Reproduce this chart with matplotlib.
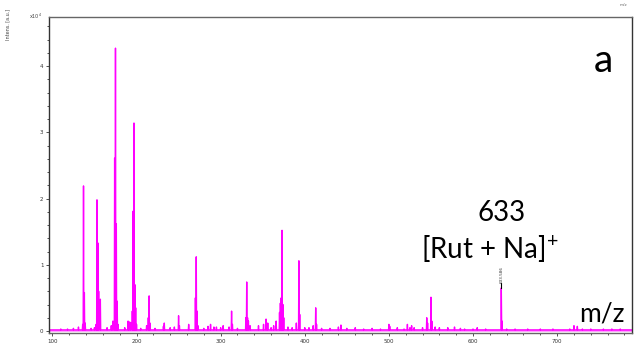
from matplotlib import pyplot as plt
from matplotlib.ticker import MultipleLocator
import numpy as np

# peak list (m/z, intensity in units of 1e4 a.u.)
peak_mz = [110, 118, 125, 131, 136, 137, 138, 139,
           146, 150, 152, 153, 154, 155, 157,
           165, 170, 172, 174, 175, 176, 177, 178,
           186, 190, 191, 193, 195, 196, 197, 198, 199, 200,
           205, 212, 214, 215, 216, 222, 232, 233, 240, 245, 250, 251,
           262, 270, 271, 272, 273, 280, 285, 288, 292, 295, 300, 303,
           310, 313, 314, 320, 330, 331, 332, 333, 335, 345, 351, 354, 356,
           360, 363, 366, 370, 371, 372, 373, 374, 375, 380, 385, 390, 393, 394,
           400, 405, 410, 413, 414, 420, 430, 440, 443, 450, 460, 470, 480, 490,
           500, 501, 510, 518, 522, 525, 527, 530, 540, 545, 546, 550, 551,
           555, 560, 570, 578, 585, 590, 600, 605, 615, 633.6, 634.5,
           640, 650, 665, 680, 695, 715, 720, 724, 730, 740, 755, 765, 775]
peak_int = [0.03, 0.03, 0.04, 0.06, 0.10, 2.19, 0.58, 0.12,
            0.04, 0.05, 0.10, 1.98, 1.33, 0.60, 0.48,
            0.05, 0.08, 0.15, 2.61, 4.27, 1.62, 0.45, 0.10,
            0.05, 0.15, 0.14, 0.13, 0.30, 1.81, 3.14, 0.70, 0.35, 0.10,
            0.04, 0.08, 0.20, 0.53, 0.12, 0.04, 0.07, 0.12, 0.05, 0.06, 0.23, 0.08,
            0.10, 0.50, 1.12, 0.30, 0.08, 0.04, 0.07, 0.10, 0.06, 0.06, 0.05, 0.08,
            0.06, 0.30, 0.10, 0.04, 0.20, 0.74, 0.20, 0.15, 0.08, 0.08, 0.10, 0.18, 0.12,
            0.05, 0.08, 0.15, 0.28, 0.42, 0.50, 1.52, 0.40, 0.20, 0.06, 0.05, 0.12, 1.06, 0.25,
            0.05, 0.05, 0.08, 0.35, 0.10, 0.04, 0.04, 0.06, 0.09, 0.04, 0.05, 0.03, 0.04, 0.03,
            0.10, 0.07, 0.05, 0.03, 0.10, 0.05, 0.08, 0.05, 0.05, 0.20, 0.12, 0.51, 0.15,
            0.06, 0.05, 0.05, 0.06, 0.04, 0.03, 0.03, 0.05, 0.03, 0.65, 0.15,
            0.03, 0.03, 0.03, 0.03, 0.03, 0.03, 0.08, 0.07, 0.03, 0.03, 0.03, 0.03, 0.03]
baseline = 0.015
mz_range = [96, 789]

label_mz = 633.586
label_int = 0.65

MAGENTA = "#ff00ff"
font = "Lato"
plt.rcParams["mathtext.fontset"] = "custom"
plt.rcParams["mathtext.rm"] = font

fig = plt.figure(figsize=(6.35, 3.43), dpi=100)
ax = fig.add_axes([0.0772, 0.0292, 0.9181, 0.9212])

# stick spectrum: each peak goes baseline -> top -> baseline
xs, ys = [], []
for m, h in sorted(zip(peak_mz, peak_int)):
    xs += [m - 0.4, m, m + 0.4]
    ys += [baseline, h, baseline]
xs = [mz_range[0]] + xs + [mz_range[1]]
ys = [baseline] + ys + [baseline]
ax.plot(mz_range, [baseline, baseline], color="#ff80ff", lw=1.8, zorder=1)
ax.plot(xs, ys, color=MAGENTA, lw=1.0, zorder=2)

# peak label
ax.plot([label_mz, label_mz], [label_int, label_int + 0.07], color="black", lw=0.8)
ax.text(label_mz, label_int + 0.08, "633.586", rotation=90, ha="center", va="bottom",
        fontsize=3, color="#333333")

ax.set_xlim(*mz_range)
ax.set_ylim(-0.03, 4.74)
ax.xaxis.set_major_locator(MultipleLocator(100))
ax.xaxis.set_minor_locator(MultipleLocator(20))
ax.yaxis.set_major_locator(MultipleLocator(1))
ax.yaxis.set_minor_locator(MultipleLocator(0.2))
ax.tick_params(which="both", direction="out", labelsize=4, colors="#333333",
               length=2.5, width=0.6, pad=1.5)
ax.tick_params(which="minor", length=1.5)
ax.set_xticks([100, 200, 300, 400, 500, 600, 700])
ax.set_xticklabels(["100", "200", "300", "400", "500", "600", "700"])
ax.set_yticklabels([f"{int(v)}" if v >= 0 else "" for v in ax.get_yticks()])
for side in ["top", "right", "left", "bottom"]:
    ax.spines[side].set_color("#666666")
    ax.spines[side].set_linewidth(1.0)
ax.spines["left"].set_color("#333333")
ax.spines["right"].set_color("#333333")

# small instrument labels
fig.text(0.008, 0.93, "Intens. [a.u.]", rotation=90, fontsize=3.5, color="#444444",
         ha="left", va="center")
fig.text(0.045, 0.953, "x10$^4$", fontsize=3.5, color="#444444", ha="left", va="center")
fig.text(0.982, 0.99, "m/z", fontsize=3, color="#666666", ha="center", va="top")

# big overlay text
ax.text(0.951, 0.862, "a", transform=ax.transAxes, fontsize=28, family=font,
        ha="center", va="center")
ax.text(label_mz, 1.78, "633", fontsize=20, family=font, ha="center", va="center")
ax.text(label_mz - 14, 1.24, "[Rut + Na]$^{\\mathregular{+}}$", fontsize=20, family=font,
        ha="center", va="center")
ax.text(0.949, 0.06, "m/z", transform=ax.transAxes, fontsize=19, family=font,
        ha="center", va="center")

plt.savefig("out.png", dpi=100)
plt.close()
